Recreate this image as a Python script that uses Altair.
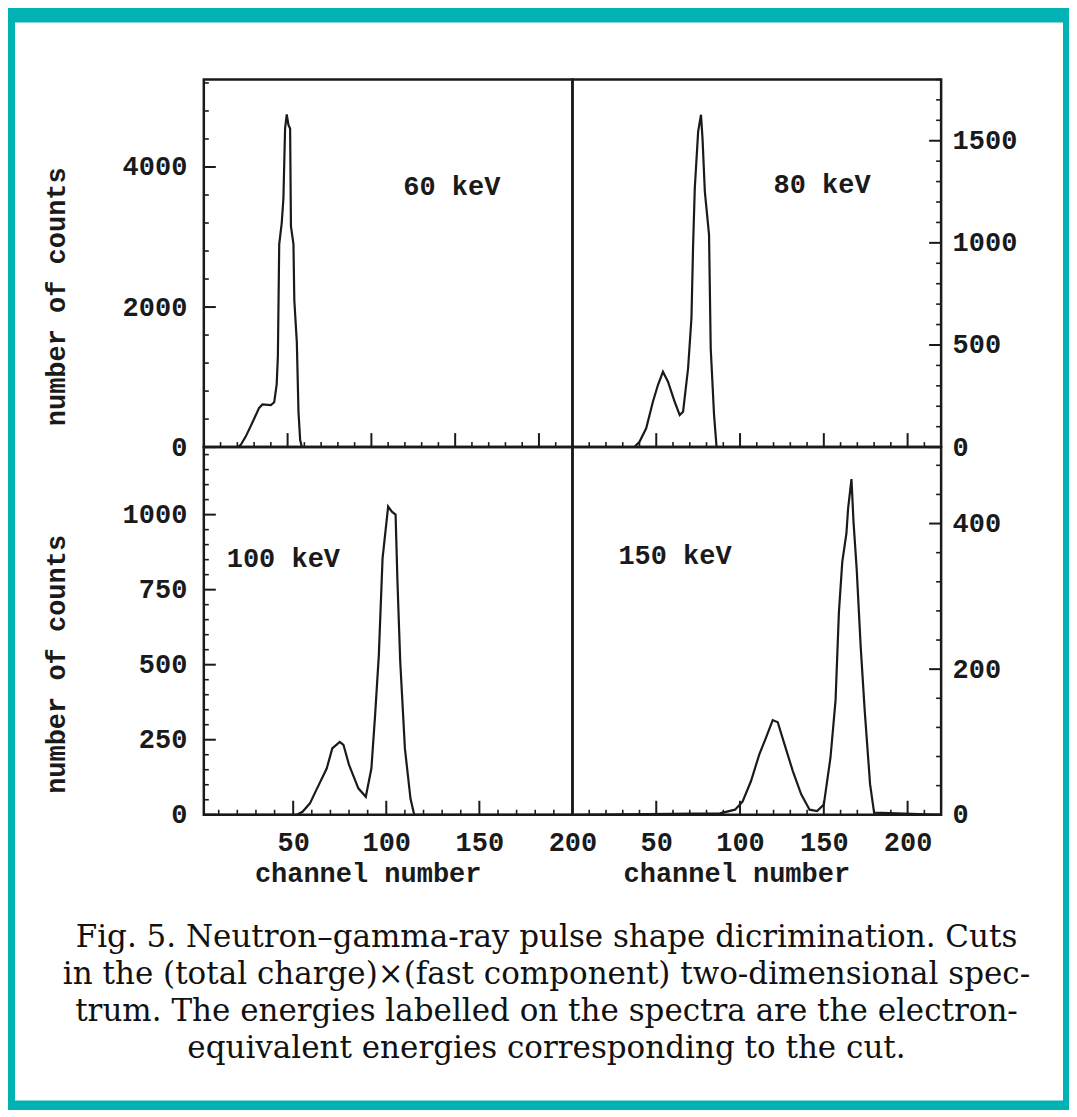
import altair as alt
import pandas as pd

TEAL = "#00b2b4"
INK = "#1a1a1a"
MONO = "Liberation Mono"
SERIF = "DejaVu Serif"

# ---- spectra (channel number, number of counts) ----
TL_CH = [0, 20, 22, 25, 29, 33, 35, 40, 42, 43.5, 44.2, 45, 46.5, 47.5, 48.5, 49.5, 50.5, 51.5, 52, 53.5, 54, 55.5, 56.5, 57.5, 58.5, 220]
TL_CNT = [0, 0, 30, 150, 350, 560, 610, 600, 640, 900, 1300, 2900, 3200, 3550, 4550, 4750, 4600, 4550, 3150, 2900, 2100, 1500, 500, 100, 0, 0]

TR_CH = [0, 37, 40, 44, 48, 51, 54, 57, 61, 64, 66, 69, 71, 72, 73, 75, 76.7, 77.6, 79, 81.5, 82.5, 84.5, 86, 220]
TR_CNT = [0, 0, 26, 92, 222, 304, 369, 320, 222, 157, 173, 386, 631, 990, 1268, 1545, 1627, 1513, 1251, 1039, 484, 157, 0, 0]

BL_CH = [2, 52, 55, 59, 62, 68, 71, 75, 77, 80, 85, 89, 92, 94, 96, 98, 101, 103, 105, 106, 107.5, 110, 113, 115, 200]
BL_CNT = [0, 0, 10, 38, 77, 154, 221, 243, 233, 166, 88, 60, 154, 332, 532, 854, 1027, 1010, 1000, 777, 510, 221, 54, 0, 0]

BR_CH = [0, 88, 97, 101.5, 106.5, 111.5, 115.5, 119.5, 122.5, 126.5, 131.5, 136.5, 141.5, 146, 150, 154, 157, 159, 161, 163.5, 164.5, 166.5, 167.7, 169.6, 172, 174.4, 177.6, 180, 220]
BR_CNT = [0, 2, 7, 18, 46, 83, 106, 130, 127, 97, 60, 28, 7, 5, 14, 79, 157, 278, 347, 387, 421, 461, 403, 338, 231, 143, 42, 3, 0]

# energy labels and where they sit (data units of each panel)
LABELS = ["60 keV", "80 keV", "100 keV", "150 keV"]
LABEL_CH = [119, 120, 14.3, 27.4]
LABEL_CNT = [3710, 1284, 852, 356]

# axis tick labels
TL_Y_TICKS = [0, 2000, 4000]
TR_Y_TICKS = [0, 500, 1000, 1500]
BL_Y_TICKS = [0, 250, 500, 750, 1000]
BR_Y_TICKS = [0, 200, 400]
X_TICKS = [50, 100, 150, 200]

CAPTION = [
    "Fig. 5. Neutron\u2013gamma-ray pulse shape dicrimination. Cuts",
    "in the (total charge)\u00d7(fast component) two-dimensional spec-",
    "trum. The energies labelled on the spectra are the electron-",
    "equivalent energies corresponding to the cut.",
]

W, H = 369, 368
MAJ, MIN = 12, 5


def panel(ch, cnt, xdom, ydom, xaxis, yaxis, ymaj, ystep, side, label, lch, lcnt, extra_under=None, extra_over=None):
    xs = alt.Scale(domain=xdom, nice=False, zero=False)
    ys = alt.Scale(domain=ydom, nice=False, zero=False)

    def X():
        return alt.X("ch:Q", scale=xs, axis=xaxis)

    def Y():
        return alt.Y("cnt:Q", scale=ys, axis=yaxis)

    line = alt.Chart(pd.DataFrame({"ch": ch, "cnt": cnt})).mark_line(
        color=INK, strokeWidth=2.2, clip=True
    ).encode(x=X(), y=Y())

    ymin = [v for v in range(0, int(ydom[1]) + 1, ystep) if v not in ymaj and v > ydom[0]]
    xmaj = [v for v in X_TICKS if xdom[0] < v < xdom[1]]
    xmin = [v for v in range(10, int(xdom[1]), 10) if v not in X_TICKS and v > xdom[0]]

    x0 = 0 if side == "left" else W
    sgn = 1 if side == "left" else -1

    ymaj_r = alt.Chart(pd.DataFrame({"cnt": ymaj})).mark_rule(color=INK, strokeWidth=2).encode(
        y=Y(), x=alt.value(x0), x2=alt.value(x0 + sgn * MAJ))
    ymin_r = alt.Chart(pd.DataFrame({"cnt": ymin})).mark_rule(color=INK, strokeWidth=1.6).encode(
        y=Y(), x=alt.value(x0), x2=alt.value(x0 + sgn * MIN))
    xmaj_r = alt.Chart(pd.DataFrame({"ch": xmaj})).mark_rule(color=INK, strokeWidth=2).encode(
        x=X(), y=alt.value(H), y2=alt.value(H - MAJ - 2))
    xmin_r = alt.Chart(pd.DataFrame({"ch": xmin})).mark_rule(color=INK, strokeWidth=1.6).encode(
        x=X(), y=alt.value(H), y2=alt.value(H - MIN))

    txt = alt.Chart(pd.DataFrame({"ch": [lch], "cnt": [lcnt], "t": [label]})).mark_text(
        align="left", baseline="middle", font=MONO, fontSize=27, fontWeight="bold", color=INK
    ).encode(x=X(), y=Y(), text="t:N")

    layers = []
    if extra_under is not None:
        layers.extend(extra_under)
    layers.extend([line, ymaj_r, ymin_r, xmaj_r, xmin_r, txt])
    if extra_over is not None:
        layers.extend(extra_over)
    return alt.layer(*layers).properties(width=W, height=H)


one = alt.Data(values=[{}])
paper = alt.Chart(one).mark_rect(color="white").encode(
    x=alt.value(-189), x2=alt.value(860), y=alt.value(-57), y2=alt.value(1022))
frame = alt.Chart(one).mark_rect(filled=False, stroke=INK, strokeWidth=2.5).encode(
    x=alt.value(0), x2=alt.value(W), y=alt.value(0), y2=alt.value(H))
caption = alt.Chart(one).mark_text(
    align="center", baseline="alphabetic", font=SERIF, fontSize=31, lineHeight=37.3, color="#111"
).encode(x=alt.value(343), y=alt.value(868), text=alt.value(CAPTION))

left_axis = dict(orient="left", title="number of counts", labelPadding=17, format="d", zindex=1,
                 titleX=-139, titleY=217, titleAngle=270, titleAlign="center", titleBaseline="alphabetic")
right_axis = dict(orient="right", title=None, labelPadding=11, format="d", zindex=1)
bottom_axis = dict(orient="bottom", values=X_TICKS, title="channel number", labelPadding=15, format="d", zindex=1,
                   titleX=164, titleY=67, titleAlign="center", titleBaseline="alphabetic")

tl = panel(TL_CH, TL_CNT, [0, 220], [0, 5250], None, alt.Axis(values=TL_Y_TICKS, **left_axis),
           TL_Y_TICKS, 400, "left", LABELS[0], LABEL_CH[0], LABEL_CNT[0],
           extra_under=[paper, frame], extra_over=[caption])
tr = panel(TR_CH, TR_CNT, [0, 220], [0, 1800], None, alt.Axis(values=TR_Y_TICKS, **right_axis),
           TR_Y_TICKS, 100, "right", LABELS[1], LABEL_CH[1], LABEL_CNT[1])
bl = panel(BL_CH, BL_CNT, [2, 200], [0, 1225], alt.Axis(**bottom_axis), alt.Axis(values=BL_Y_TICKS, **left_axis),
           BL_Y_TICKS, 50, "left", LABELS[2], LABEL_CH[2], LABEL_CNT[2])
br = panel(BR_CH, BR_CNT, [0, 220], [0, 505], alt.Axis(**bottom_axis), alt.Axis(values=BR_Y_TICKS, **right_axis),
           BR_Y_TICKS, 40, "right", LABELS[3], LABEL_CH[3], LABEL_CNT[3])

chart = alt.concat(tl, tr, bl, br, columns=2, spacing=0, bounds="flush", align="all").properties(
    background=TEAL,
    padding={"left": 5, "top": 12, "right": 4, "bottom": 7},
).configure_view(
    stroke=INK, strokeWidth=2.5
).configure_axis(
    domain=False, ticks=False, grid=False, labelFlush=False, labelOverlap=False, zindex=1,
    labelFont=MONO, labelFontSize=27, labelFontWeight="bold", labelColor=INK,
    titleFont=MONO, titleFontSize=27, titleFontWeight="bold", titleColor=INK,
)

chart.save("out.html", embed_options={"renderer": "svg", "actions": False})
